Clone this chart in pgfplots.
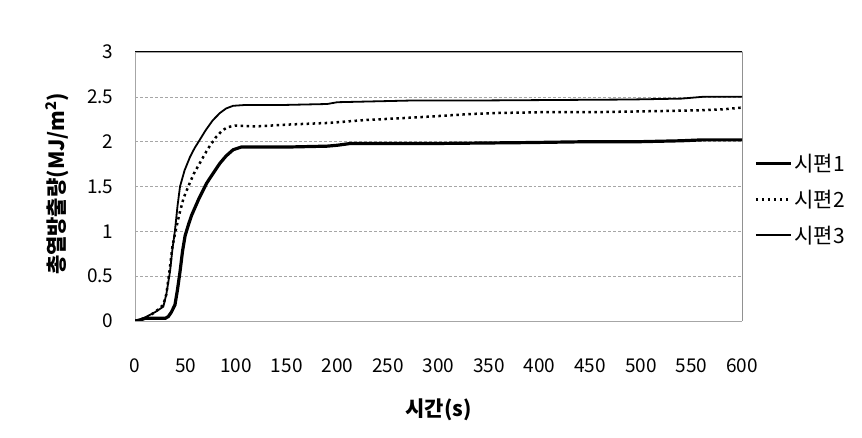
\documentclass[border=0pt]{standalone}
\usepackage{pgfplots}
\pgfplotsset{compat=1.18}
\usepackage{fontspec}
\setmainfont{Noto Sans CJK KR}
\begin{document}
\begin{tikzpicture}
\useasboundingbox (0,0) rectangle (862bp,438bp);
\begin{axis}[
  at={(135bp,117bp)}, anchor=south west,
  scale only axis, width=607bp, height=269bp,
  xmin=0, xmax=600, ymin=0, ymax=3,
  xtick={0,50,...,600}, ytick={0,0.5,...,3},
  yticklabels={0,0.5,1,1.5,2,2.5,3},
  /pgf/number format/assume math mode=true,
  tick label style={font=\fontsize{19bp}{22bp}\selectfont},
  xticklabel style={yshift=-34bp},
  yticklabel style={xshift=-18bp},
  major tick length=0pt,
  ymajorgrids, major grid style={gray!70, densely dashed, line width=0.5bp},
  axis line style={gray!70, line width=0.8bp},
  separate axis lines,
  x axis line style={-}, y axis line style={-},
  every axis x label/.style={at={(axis description cs:0.5,-0.33)}, anchor=center},
  every axis y label/.style={at={(axis description cs:-0.128,0.51)}, rotate=90, anchor=center},
  label style={font=\fontsize{21bp}{24bp}\selectfont\bfseries},
  xlabel={시간(s)},
  ylabel={총열방출량(MJ/m$^{\mathbf{2}}$)},
  legend style={at={(axis description cs:1.02,0.628)}, anchor=north west, draw=none, fill=none,
    font=\fontsize{21bp}{24bp}\selectfont, row sep=13bp, inner sep=0pt},
  legend cell align=left,
  legend image code/.code={\draw[#1] (0bp,0bp) -- (35bp,0bp);},
]
\addplot[black, line width=3.2bp] coordinates {
(0,0) (5,0.01) (10,0.03) (20,0.03) (30,0.03) (33,0.05) (36,0.10) (39.5,0.18) (42,0.35)
(44.5,0.55) (47,0.78) (49.5,0.95) (53,1.08) (56,1.18) (63,1.36) (71,1.54) (78,1.66)
(84,1.76) (90,1.84) (97,1.91) (105,1.94) (120,1.94) (150,1.94) (190,1.95) (200,1.96)
(213,1.98) (300,1.98) (390,1.99) (450,2.00) (500,2.00) (540,2.01) (561,2.02) (600,2.02)
};
\addlegendentry{시편1}
\addplot[black, line width=2.5bp, dash pattern=on 2.5bp off 3.5bp] coordinates {
(0,0) (10,0.03) (20,0.10) (28,0.18) (31,0.30) (34,0.55) (37,0.83) (40,1.00) (44,1.20)
(48,1.37) (52.7,1.50) (58,1.64) (64,1.76) (72,1.92) (80,2.05) (86,2.12) (91,2.16)
(99,2.18) (120,2.17) (150,2.19) (193,2.21) (226,2.24) (260,2.26) (292,2.28) (334,2.31)
(360,2.32) (410,2.33) (460,2.33) (512,2.34) (560,2.35) (581,2.36) (600,2.38)
};
\addlegendentry{시편2}
\addplot[black, line width=1.8bp] coordinates {
(0,0) (10,0.04) (20,0.10) (28,0.16) (31,0.30) (34.6,0.55) (37,0.80) (39.5,1.01) (42,1.28)
(44.5,1.50) (49,1.68) (54.4,1.83) (59,1.93) (64,2.02) (70,2.13) (77,2.24) (84,2.32)
(90,2.37) (97,2.40) (110,2.41) (150,2.41) (190,2.42) (200,2.44) (278,2.46) (350,2.46)
(489,2.47) (540,2.48) (561,2.50) (600,2.50)
};
\addlegendentry{시편3}
\draw[black, line width=1bp] (rel axis cs:0,1) -- (rel axis cs:1,1) -- (rel axis cs:1,0);
\end{axis}
\end{tikzpicture}
\end{document}
